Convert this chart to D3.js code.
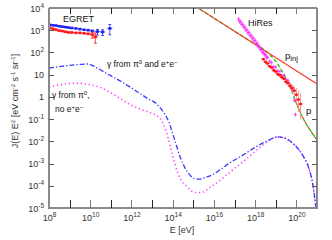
<!DOCTYPE html>
<html>
<head>
<meta charset="utf-8">
<script src="https://cdn.jsdelivr.net/npm/d3@7"></script>
<style>
  body { margin: 0; background: #fff; }
  svg { display: block; font-family: "Liberation Sans", Arial, sans-serif; }
</style>
</head>
<body>
<svg width="332" height="240"></svg>
<script>
// all values are log10 of E [eV] and log10 of J(E) E^2
var egretBlueE = [8.05, 8.2, 8.35, 8.5, 8.65, 8.8, 8.95, 9.1, 9.3, 9.5, 9.7, 9.9, 10.1, 10.35, 10.6, 10.95];
var egretBlueJ = [3.24, 3.22, 3.21, 3.18, 3.16, 3.14, 3.12, 3.10, 3.08, 3.05, 3.02, 3.00, 2.97, 2.94, 2.92, 3.08];
var egretRedE = [8.05, 8.2, 8.35, 8.5, 8.65, 8.8, 8.95, 9.1, 9.3, 9.5, 9.7, 9.9, 10.1, 10.25];
var egretRedJ = [3.10, 3.06, 3.02, 2.98, 2.96, 2.93, 2.90, 2.90, 2.88, 2.88, 2.86, 2.84, 2.80, 2.70];

var hiresE = [17.2, 17.25, 17.3, 17.35, 17.4, 17.45, 17.5, 17.55, 17.6, 17.65, 17.7, 17.75, 17.8, 17.85, 17.9, 17.95,
  18.0, 18.05, 18.1, 18.15, 18.2, 18.25, 18.3, 18.35, 18.4, 18.45, 18.5, 18.55, 18.6, 18.7, 18.8, 18.9, 19.0, 19.1, 19.2, 19.3,
  19.4, 19.5, 19.6, 19.7, 19.8, 19.9, 19.95];
var hiresJ = [3.50, 3.38, 3.38, 3.26, 3.26, 3.13, 3.14, 3.01, 3.02, 2.88, 2.90, 2.76, 2.78, 2.64, 2.66, 2.52,
  2.54, 2.40, 2.42, 2.28, 2.27, 2.14, 2.14, 2.00, 2.02, 1.90, 1.90, 1.78, 1.78, 1.60, 1.54, 1.36, 1.34, 1.16, 1.14, 0.96,
  0.96, 0.78, 0.73, 0.48, 0.34, -0.15, -0.80];

var agasaE = [18.4, 18.5, 18.6, 18.7, 18.8, 18.9, 19.0, 19.1, 19.2, 19.3, 19.4, 19.5, 19.6, 19.7, 19.8, 19.9, 20.0, 20.1, 20.2];
var agasaJ = [1.70, 1.58, 1.50, 1.38, 1.32, 1.20, 1.14, 1.02, 0.98, 0.88, 0.82, 0.68, 0.62, 0.50, 0.40, 0.28, 0.10, -0.12, -0.32];
var agasaErr = [0.05, 0.05, 0.05, 0.05, 0.06, 0.06, 0.07, 0.07, 0.08, 0.08, 0.09, 0.1, 0.12, 0.14, 0.16, 0.2, 0.3, 0.4, 0.5];

var gammaAllE = [8.0, 8.5, 9.0, 9.5, 9.9, 10.3, 10.8, 11.3, 11.8, 12.3, 12.8, 13.2, 13.5, 13.8, 14.1, 14.4, 14.7, 15.0,
  15.3, 15.6, 15.9, 16.3, 16.8, 17.4, 18.0, 18.6, 19.1, 19.5, 19.9, 20.3, 20.6, 20.8, 20.95];
var gammaAllJ = [1.30, 1.36, 1.42, 1.46, 1.48, 1.32, 1.05, 0.80, 0.52, 0.22, -0.08, -0.30, -0.62, -1.10, -1.95, -2.80, -3.35, -3.65,
  -3.70, -3.62, -3.52, -3.28, -2.95, -2.62, -2.27, -1.97, -1.80, -1.88, -2.15, -2.62, -3.20, -3.95, -5.0];

var gammaPiE = [8.0, 8.5, 9.0, 9.4, 9.9, 10.5, 11.0, 11.5, 12.0, 12.5, 13.0, 13.4, 13.7, 14.0, 14.3, 14.7, 15.1, 15.4,
  15.8, 16.4, 17.0, 17.5, 18.0, 18.4, 18.8, 19.1, 19.5, 19.9, 20.3, 20.6, 20.8, 20.95];
var gammaPiJ = [0.44, 0.54, 0.60, 0.62, 0.56, 0.42, 0.18, -0.10, -0.38, -0.58, -0.74, -0.98, -1.60, -2.65, -3.55, -4.05, -4.30, -4.30,
  -4.08, -3.68, -3.22, -2.85, -2.45, -2.15, -1.90, -1.80, -1.88, -2.15, -2.62, -3.20, -3.95, -5.0];

var pinjE = [15.3, 21.0];
var pinjJ = [3.96, 0.58];

var pE = [15.3, 16.5, 17.5, 18.5, 18.87, 19.36, 19.7, 19.94, 20.18, 20.43, 20.67, 21.01];
var pJ = [3.96, 3.25, 2.66, 2.07, 1.75, 1.07, 0.44, -0.14, -0.68, -1.14, -1.50, -1.95];

var xExps = d3.range(8, 22);
var yExps = d3.range(-5, 5);

var svg = d3.select("svg");
var mLeft = 49, mRight = 317, mTop = 8, mBottom = 208;

var x = d3.scaleLog().domain([1e8, 1e21]).range([mLeft, mRight]);
var y = d3.scaleLog().domain([1e-5, 1e4]).range([mBottom, mTop]);
var px = function (v) { return x(Math.pow(10, v)); };
var py = function (v) { return y(Math.pow(10, v)); };

svg.append("clipPath").attr("id", "clip")
  .append("rect").attr("x", mLeft).attr("y", mTop).attr("width", mRight - mLeft).attr("height", mBottom - mTop);

var plot = svg.append("g").attr("clip-path", "url(#clip)");

function pairs(es, js) { return es.map(function (e, i) { return [e, js[i]]; }); }

var curve = d3.line().x(d => px(d[0])).y(d => py(d[1])).curve(d3.curveMonotoneX);
var straight = d3.line().x(d => px(d[0])).y(d => py(d[1]));

// gamma curves
plot.append("path").attr("d", curve(pairs(gammaPiE, gammaPiJ)))
  .attr("fill", "none").attr("stroke", "#ff44ff").attr("stroke-width", 1.6)
  .attr("stroke-dasharray", "1.3,2.7");
plot.append("path").attr("d", curve(pairs(gammaAllE, gammaAllJ)))
  .attr("fill", "none").attr("stroke", "#3b3bff").attr("stroke-width", 1.3)
  .attr("stroke-dasharray", "5,2,1.3,2");

// proton curves
plot.append("path").attr("d", curve(pairs(pE, pJ)))
  .attr("fill", "none").attr("stroke", "#22cc22").attr("stroke-width", 1.4)
  .attr("stroke-dasharray", "4,2");
plot.append("path").attr("d", straight(pairs(pinjE, pinjJ)))
  .attr("fill", "none").attr("stroke", "#ff3322").attr("stroke-width", 1.1);
plot.append("path").attr("d", curve(pairs(pE.slice(7), pJ.slice(7))))
  .attr("fill", "none").attr("stroke", "#ff2a2a").attr("stroke-width", 1.3)
  .attr("stroke-dasharray", "2,4");

// EGRET points
function egret(es, js, color, errIdx) {
  var g = plot.append("g").attr("fill", color).attr("stroke", color);
  es.forEach(function (e, i) {
    var cx = px(e), cy = py(js[i]);
    g.append("line").attr("x1", cx - 2.5).attr("x2", cx + 2.5).attr("y1", cy).attr("y2", cy).attr("stroke-width", 0.8);
    g.append("rect").attr("x", cx - 1.5).attr("y", cy - 1.3).attr("width", 3).attr("height", 2.6).attr("stroke", "none");
    if (errIdx.indexOf(i) >= 0) {
      var d = i === es.length - 1 ? 0.18 : 0.1;
      g.append("line").attr("x1", cx).attr("x2", cx).attr("y1", py(js[i] + d)).attr("y2", py(js[i] - d * 1.6)).attr("stroke-width", 0.8);
      g.append("line").attr("x1", cx - 1.5).attr("x2", cx + 1.5).attr("y1", py(js[i] + d)).attr("y2", py(js[i] + d)).attr("stroke-width", 0.8);
      g.append("line").attr("x1", cx - 1.5).attr("x2", cx + 1.5).attr("y1", py(js[i] - d * 1.6)).attr("y2", py(js[i] - d * 1.6)).attr("stroke-width", 0.8);
    }
  });
}
egret(egretRedE, egretRedJ, "#ff1a1a", [12, 13]);
egret(egretBlueE, egretBlueJ, "#2222ee", [13, 14, 15]);

// HiRes points
var hg = plot.append("g").attr("stroke", "#ff2aff").attr("stroke-width", 0.9);
hiresE.forEach(function (e, i) {
  var cx = px(e), cy = py(hiresJ[i]);
  hg.append("line").attr("x1", cx - 1.5).attr("x2", cx + 1.5).attr("y1", cy).attr("y2", cy);
  hg.append("line").attr("x1", cx).attr("x2", cx).attr("y1", cy - 2).attr("y2", cy + 2);
});

// AGASA-like red points
var ag = plot.append("g");
agasaE.forEach(function (e, i) {
  var cx = px(e), cy = py(agasaJ[i]);
  ag.append("line").attr("x1", cx).attr("x2", cx)
    .attr("y1", py(agasaJ[i] + agasaErr[i])).attr("y2", py(agasaJ[i] - agasaErr[i] * 1.4))
    .attr("stroke", "#ff8080").attr("stroke-width", 0.8);
  ag.append("line").attr("x1", cx - 2).attr("x2", cx + 2).attr("y1", cy).attr("y2", cy)
    .attr("stroke", "#ff2020").attr("stroke-width", 1);
  ag.append("rect").attr("x", cx - 1.2).attr("y", cy - 1.2).attr("width", 2.4).attr("height", 2.4).attr("fill", "#ff1010");
});

// axes frame
var frame = svg.append("g").attr("stroke", "#8a8a8a").attr("stroke-width", 2).attr("fill", "none");
frame.append("line").attr("x1", mLeft).attr("x2", mLeft).attr("y1", mTop).attr("y2", mBottom + 1);
frame.append("line").attr("x1", mRight).attr("x2", mRight).attr("y1", mTop).attr("y2", mBottom + 1);
frame.append("line").attr("x1", mLeft).attr("x2", mRight).attr("y1", mBottom).attr("y2", mBottom);
frame.append("line").attr("x1", mLeft).attr("x2", mRight).attr("y1", mTop).attr("y2", mTop);

var tickG = svg.append("g").attr("stroke", "#555").attr("stroke-width", 1);
xExps.forEach(function (k) {
  var tx = Math.round(x(Math.pow(10, k))) + 0.5;
  if (k > 8 && k < 21) {
    tickG.append("line").attr("x1", tx).attr("x2", tx).attr("y1", mBottom).attr("y2", mBottom - 8)
      .attr("stroke", k % 2 ? "#222" : "#777");
    tickG.append("line").attr("x1", tx).attr("x2", tx).attr("y1", mTop).attr("y2", mTop + 6)
      .attr("stroke", k % 2 ? "#222" : "#777");
  }
});
yExps.forEach(function (k) {
  var ty = Math.round(y(Math.pow(10, k))) + 0.5;
  if (k > -5 && k < 4) {
    tickG.append("line").attr("x1", mLeft).attr("x2", mLeft + 5).attr("y1", ty).attr("y2", ty);
    tickG.append("line").attr("x1", mRight).attr("x2", mRight - 5).attr("y1", ty).attr("y2", ty);
  }
});

function power(sel, k) {
  if (k === 0) { sel.append("tspan").text("1"); return; }
  if (k === 1) { sel.append("tspan").text("10"); return; }
  sel.append("tspan").text("10");
  sel.append("tspan").attr("dy", -4).attr("font-size", 6.5).text(k);
}

var tickText = svg.append("g").attr("fill", "#333").attr("font-size", 9);
yExps.forEach(function (k) {
  var t = tickText.append("text").attr("x", 44).attr("y", y(Math.pow(10, k)) + 3.5).attr("text-anchor", "end");
  power(t, k);
});
xExps.filter(k => k % 2 === 0).forEach(function (k) {
  var t = tickText.append("text").attr("x", x(Math.pow(10, k)) + 0.5).attr("y", 221).attr("text-anchor", "middle");
  power(t, k);
});

// axis titles
svg.append("text").attr("x", 182).attr("y", 233).attr("text-anchor", "middle")
  .attr("font-size", 9).attr("fill", "#333").text("E [eV]");

var yt = svg.append("text").attr("transform", "translate(18,101) rotate(-90)")
  .attr("text-anchor", "middle").attr("font-size", 9).attr("fill", "#333");
yt.append("tspan").text("J(E) E");
yt.append("tspan").attr("dy", -3.5).attr("font-size", 6).text("2");
yt.append("tspan").attr("dy", 3.5).text(" [eV cm");
yt.append("tspan").attr("dy", -3.5).attr("font-size", 6).text("-2");
yt.append("tspan").attr("dy", 3.5).text(" s");
yt.append("tspan").attr("dy", -3.5).attr("font-size", 6).text("-1");
yt.append("tspan").attr("dy", 3.5).text(" sr");
yt.append("tspan").attr("dy", -3.5).attr("font-size", 6).text("-1");
yt.append("tspan").attr("dy", 3.5).text("]");

// in-plot labels
var lab = svg.append("g").attr("font-size", 8.5).attr("fill", "#111");
lab.append("text").attr("x", 63).attr("y", 22).attr("font-size", 9).text("EGRET");
lab.append("text").attr("x", 248).attr("y", 26).attr("font-size", 9).text("HiRes");
var pi = lab.append("text").attr("x", 285).attr("y", 59).attr("font-size", 9.5);
pi.append("tspan").text("p");
pi.append("tspan").attr("dy", 2).attr("font-size", 7.5).text("inj");
lab.append("text").attr("x", 306).attr("y", 114).attr("font-size", 9.5).text("p");

var g1 = lab.append("text").attr("x", 107).attr("y", 67);
g1.append("tspan").text("γ from π");
g1.append("tspan").attr("dy", -3.5).attr("font-size", 6).text("0");
g1.append("tspan").attr("dy", 3.5).text(" and e");
g1.append("tspan").attr("dy", -3.5).attr("font-size", 6).text("+");
g1.append("tspan").attr("dy", 3.5).text("e");
g1.append("tspan").attr("dy", -3.5).attr("font-size", 6).text("−");

var g2 = lab.append("text").attr("x", 52).attr("y", 98);
g2.append("tspan").text("γ from π");
g2.append("tspan").attr("dy", -3.5).attr("font-size", 6).text("0");
g2.append("tspan").attr("dy", 3.5).text(",");
var g3 = lab.append("text").attr("x", 55).attr("y", 112);
g3.append("tspan").text("no e");
g3.append("tspan").attr("dy", -3.5).attr("font-size", 6).text("+");
g3.append("tspan").attr("dy", 3.5).text("e");
g3.append("tspan").attr("dy", -3.5).attr("font-size", 6).text("−");
</script>
</body>
</html>
